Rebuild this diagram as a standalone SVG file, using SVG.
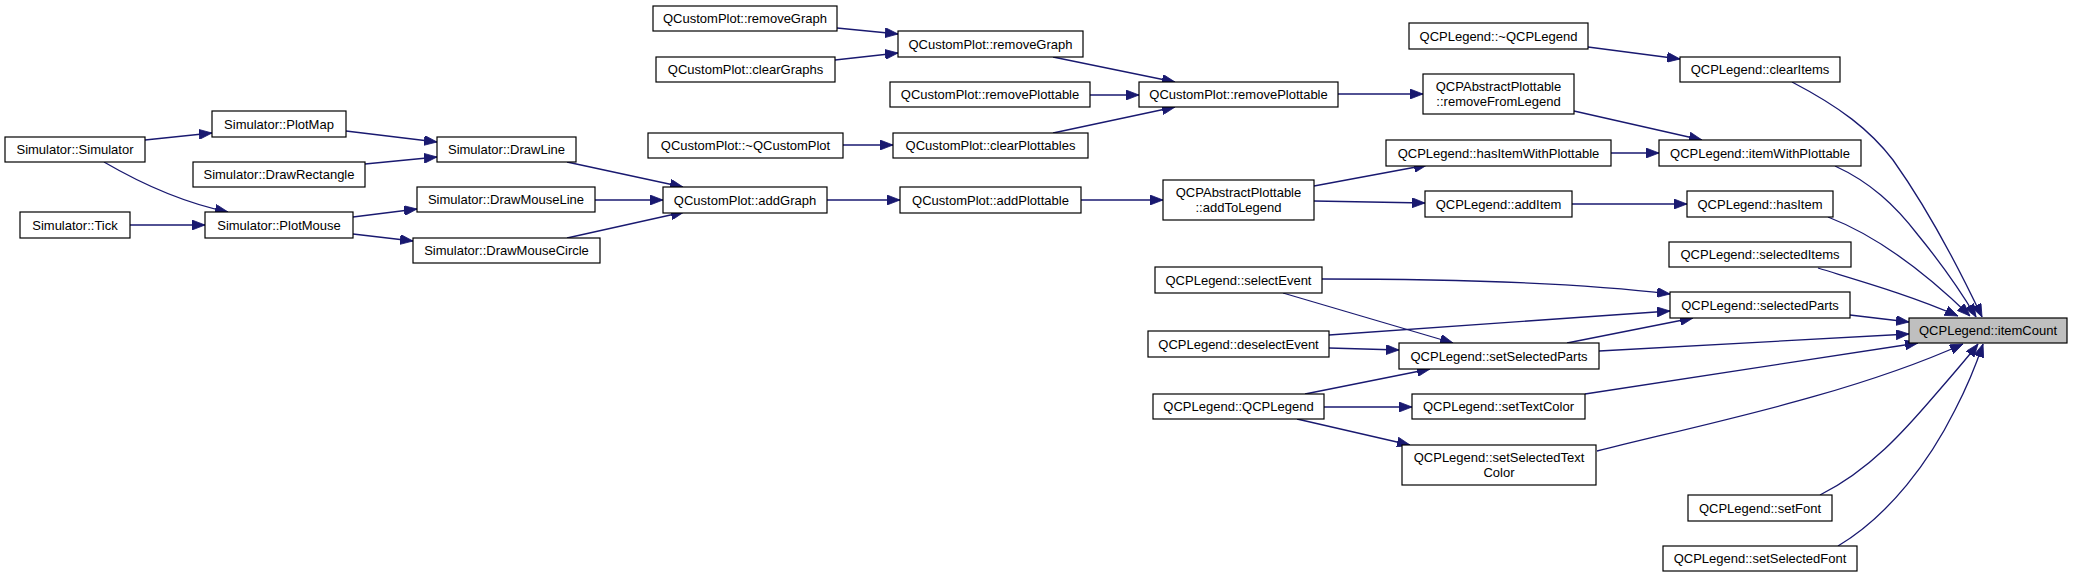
<svg xmlns="http://www.w3.org/2000/svg" width="2073" height="577" viewBox="0 0 2073 577">
<style>
.node rect{fill:#fff;stroke:#000;stroke-width:1.2}
.node.cur rect{fill:#bfbfbf}
.node text{font-family:"Liberation Sans",Arial,sans-serif;font-size:13px;fill:#000;text-anchor:middle}
.edges path{fill:none;stroke:#191970;stroke-width:1.3;marker-end:url(#arr)}
</style>
<defs>
<marker id="arr" markerUnits="userSpaceOnUse" markerWidth="13" markerHeight="10" viewBox="0 0 13 10" refX="13" refY="5" orient="auto">
<path d="M0,0 L13,5 L0,10 z" fill="#191970" stroke="#191970" stroke-width="0.8"/>
</marker>
</defs>
<rect width="2073" height="577" fill="#fff"/>
<g id="connectors" class="edges">
<path d="M145,140 L212,133"/>
<path d="M104,162 C140,183 185,203 228,212"/>
<path d="M346,131 L437,142"/>
<path d="M365,164 L437,157"/>
<path d="M130,225 L205,225"/>
<path d="M353,217 L417,209"/>
<path d="M353,234 L413,241"/>
<path d="M567,162 L683,187"/>
<path d="M595,200 L663,200"/>
<path d="M567,238 L684,212"/>
<path d="M837,28 L898,34"/>
<path d="M835,60 L898,53"/>
<path d="M1053,57 L1175,82"/>
<path d="M1090,95 L1139,95"/>
<path d="M843,145 L893,145"/>
<path d="M1053,133 L1175,107"/>
<path d="M827,200 L900,200"/>
<path d="M1081,200 L1163,200"/>
<path d="M1338,94 L1423,94"/>
<path d="M1314,186 L1427,165"/>
<path d="M1314,201 L1425,203"/>
<path d="M1588,47 L1680,59"/>
<path d="M1574,111 L1702,140"/>
<path d="M1611,153 L1659,153"/>
<path d="M1572,204 L1687,204"/>
<path d="M1792,82 C1840,107 1870,130 1893,160 C1925,205 1955,260 1982,317"/>
<path d="M1835,166 C1870,182 1895,205 1918,235 C1945,268 1960,290 1976,317"/>
<path d="M1828,217 C1880,237 1930,277 1970,316"/>
<path d="M1818,268 C1860,281 1910,295 1958,316"/>
<path d="M1322,279 C1450,279 1580,283 1670,294"/>
<path d="M1283,293 L1453,343"/>
<path d="M1329,335 L1670,311"/>
<path d="M1329,348 L1399,350"/>
<path d="M1567,343 L1693,318"/>
<path d="M1850,315 L1909,322"/>
<path d="M1599,351 L1909,334"/>
<path d="M1305,394 L1430,369"/>
<path d="M1324,407 L1412,407"/>
<path d="M1297,419 L1410,445"/>
<path d="M1585,394 L1918,343"/>
<path d="M1597,451 C1700,425 1850,395 1963,344"/>
<path d="M1820,495 C1870,470 1905,430 1935,395 C1955,372 1968,357 1978,344"/>
<path d="M1838,546 C1890,515 1930,460 1955,410 C1968,385 1976,365 1983,344"/>
</g>
<g id="n_sim_simulator" class="node"><rect x="5" y="137" width="140" height="25"/><text x="75" y="154">Simulator::Simulator</text></g>
<g id="n_sim_plotmap" class="node"><rect x="212" y="111" width="134" height="26"/><text x="279" y="128.5">Simulator::PlotMap</text></g>
<g id="n_sim_drawrectangle" class="node"><rect x="193" y="162" width="172" height="25"/><text x="279" y="179">Simulator::DrawRectangle</text></g>
<g id="n_sim_drawline" class="node"><rect x="437" y="137" width="139" height="25"/><text x="506.5" y="154">Simulator::DrawLine</text></g>
<g id="n_sim_tick" class="node"><rect x="20" y="212" width="110" height="26"/><text x="75" y="229.5">Simulator::Tick</text></g>
<g id="n_sim_plotmouse" class="node"><rect x="205" y="212" width="148" height="26"/><text x="279" y="229.5">Simulator::PlotMouse</text></g>
<g id="n_sim_drawmouseline" class="node"><rect x="417" y="187" width="178" height="25"/><text x="506" y="204">Simulator::DrawMouseLine</text></g>
<g id="n_sim_drawmousecircle" class="node"><rect x="413" y="238" width="187" height="25"/><text x="506.5" y="255">Simulator::DrawMouseCircle</text></g>
<g id="n_qcp_removegraph1" class="node"><rect x="653" y="6" width="184" height="25"/><text x="745" y="23">QCustomPlot::removeGraph</text></g>
<g id="n_qcp_cleargraphs" class="node"><rect x="656" y="57" width="179" height="25"/><text x="745.5" y="74">QCustomPlot::clearGraphs</text></g>
<g id="n_qcp_removegraph2" class="node"><rect x="898" y="31" width="185" height="26"/><text x="990.5" y="48.5">QCustomPlot::removeGraph</text></g>
<g id="n_qcp_removeplottable1" class="node"><rect x="890" y="82" width="200" height="25"/><text x="990" y="99">QCustomPlot::removePlottable</text></g>
<g id="n_qcp_removeplottable2" class="node"><rect x="1139" y="82" width="199" height="25"/><text x="1238.5" y="99">QCustomPlot::removePlottable</text></g>
<g id="n_qcp_dtor" class="node"><rect x="648" y="133" width="195" height="25"/><text x="745.5" y="150">QCustomPlot::~QCustomPlot</text></g>
<g id="n_qcp_clearplottables" class="node"><rect x="893" y="133" width="195" height="25"/><text x="990.5" y="150">QCustomPlot::clearPlottables</text></g>
<g id="n_qcp_addgraph" class="node"><rect x="663" y="187" width="164" height="26"/><text x="745" y="204.5">QCustomPlot::addGraph</text></g>
<g id="n_qcp_addplottable" class="node"><rect x="900" y="187" width="181" height="26"/><text x="990.5" y="204.5">QCustomPlot::addPlottable</text></g>
<g id="n_qap_addtolegend" class="node"><rect x="1163" y="180" width="151" height="40"/><text x="1238.5" y="196.5">QCPAbstractPlottable</text><text x="1238.5" y="211.5">::addToLegend</text></g>
<g id="n_qap_removefromlegend" class="node"><rect x="1423" y="74" width="151" height="40"/><text x="1498.5" y="90.5">QCPAbstractPlottable</text><text x="1498.5" y="105.5">::removeFromLegend</text></g>
<g id="n_leg_dtor" class="node"><rect x="1409" y="23" width="179" height="26"/><text x="1498.5" y="40.5">QCPLegend::~QCPLegend</text></g>
<g id="n_leg_clearitems" class="node"><rect x="1680" y="57" width="160" height="25"/><text x="1760" y="74">QCPLegend::clearItems</text></g>
<g id="n_leg_hasitemwithplottable" class="node"><rect x="1386" y="140" width="225" height="26"/><text x="1498.5" y="157.5">QCPLegend::hasItemWithPlottable</text></g>
<g id="n_leg_itemwithplottable" class="node"><rect x="1659" y="140" width="202" height="26"/><text x="1760" y="157.5">QCPLegend::itemWithPlottable</text></g>
<g id="n_leg_additem" class="node"><rect x="1425" y="191" width="147" height="26"/><text x="1498.5" y="208.5">QCPLegend::addItem</text></g>
<g id="n_leg_hasitem" class="node"><rect x="1687" y="191" width="146" height="26"/><text x="1760" y="208.5">QCPLegend::hasItem</text></g>
<g id="n_leg_selecteditems" class="node"><rect x="1669" y="242" width="182" height="25"/><text x="1760" y="259">QCPLegend::selectedItems</text></g>
<g id="n_leg_selectevent" class="node"><rect x="1155" y="267" width="167" height="26"/><text x="1238.5" y="284.5">QCPLegend::selectEvent</text></g>
<g id="n_leg_selectedparts" class="node"><rect x="1670" y="292" width="180" height="26"/><text x="1760" y="309.5">QCPLegend::selectedParts</text></g>
<g id="n_leg_itemcount" class="node cur"><rect x="1909" y="318" width="158" height="25"/><text x="1988" y="335">QCPLegend::itemCount</text></g>
<g id="n_leg_deselectevent" class="node"><rect x="1148" y="331" width="181" height="26"/><text x="1238.5" y="348.5">QCPLegend::deselectEvent</text></g>
<g id="n_leg_setselectedparts" class="node"><rect x="1399" y="343" width="200" height="26"/><text x="1499" y="360.5">QCPLegend::setSelectedParts</text></g>
<g id="n_leg_ctor" class="node"><rect x="1153" y="394" width="171" height="25"/><text x="1238.5" y="411">QCPLegend::QCPLegend</text></g>
<g id="n_leg_settextcolor" class="node"><rect x="1412" y="394" width="173" height="25"/><text x="1498.5" y="411">QCPLegend::setTextColor</text></g>
<g id="n_leg_setselectedtextcolor" class="node"><rect x="1402" y="445" width="194" height="40"/><text x="1499" y="461.5">QCPLegend::setSelectedText</text><text x="1499" y="476.5">Color</text></g>
<g id="n_leg_setfont" class="node"><rect x="1688" y="495" width="144" height="26"/><text x="1760" y="512.5">QCPLegend::setFont</text></g>
<g id="n_leg_setselectedfont" class="node"><rect x="1663" y="546" width="194" height="25"/><text x="1760" y="563">QCPLegend::setSelectedFont</text></g>
</svg>
